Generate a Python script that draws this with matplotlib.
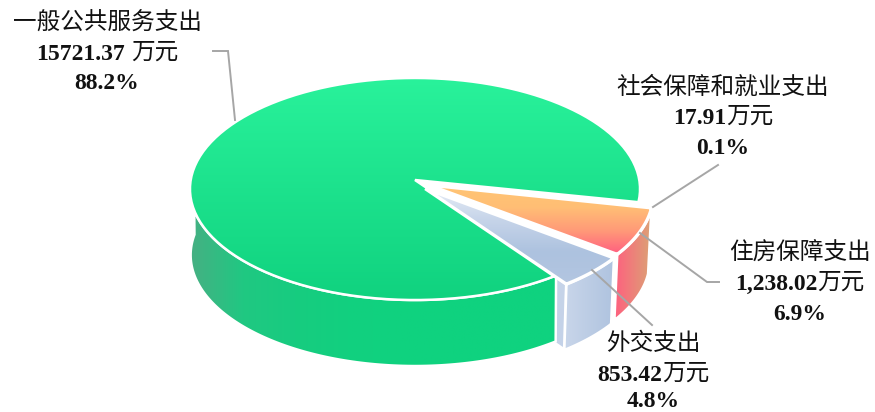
import numpy as np
import matplotlib
matplotlib.use('Agg')
import matplotlib.pyplot as plt
from matplotlib.patches import Polygon
from matplotlib.colors import LinearSegmentedColormap

plt.rcParams['font.family'] = ['Liberation Serif', 'Noto Sans CJK SC', 'DejaVu Sans']

# data
names = ['一般公共服务支出', '社会保障和就业支出', '住房保障支出', '外交支出']
values = [15721.37, 17.91, 1238.02, 853.42]
value_labels = ['15721.37', '17.91', '1,238.02', '853.42']
unit_gaps = [6, 0, 0, 0]
percents = ['88.2%', '0.1%', '6.9%', '4.8%']

# pie geometry, in pixels
cx, cy = 415, 180
rx, ry = 224.3, 110.3
persp = 0.081
depth = 66
start_angle = 54

fig = plt.figure(figsize=(8.75, 4.12), dpi=100)
ax = fig.add_axes([0, 0, 1, 1])
ax.set_xlim(0, 875)
ax.set_ylim(412, 0)
ax.axis('off')
ax.set_autoscale_on(False)


def project(theta, off=(0, 0), down=0, shrink=1.0):
    t = np.radians(theta)
    u, v = np.cos(t), np.sin(t)
    w = 1 - persp * v
    return np.column_stack([cx + off[0] + shrink * rx * u / w,
                            cy + off[1] + down + ry * v / w])


def arc(t0, t1, **kw):
    return project(np.linspace(t0, t1, 120), **kw)


def grad_fill(pts, colors, horizontal=False, z=1, lw=1.5):
    # gradient image clipped by the polygon, white outline on top
    pts = np.asarray(pts)
    x0, y0 = pts.min(axis=0)
    x1, y1 = pts.max(axis=0)
    xx, yy = np.meshgrid(np.linspace(0, 1, 200), np.linspace(0, 1, 200))
    g = xx if horizontal else yy
    cmap = LinearSegmentedColormap.from_list('g', colors)
    im = ax.imshow(g, cmap=cmap, vmin=0, vmax=1, extent=(x0, x1, y1, y0),
                   aspect='auto', zorder=z, interpolation='bilinear')
    clip = Polygon(pts, closed=True, transform=ax.transData, fc='none', ec='none')
    ax.add_patch(clip)
    im.set_clip_path(clip)
    ax.add_patch(Polygon(pts, closed=True, fill=False, ec='white', lw=lw,
                         joinstyle='miter', zorder=z + 0.5))


def side_pts(t0, t1, off=(0, 0), shrink=0.985):
    top = arc(t0, t1, off=off)
    bottom = arc(t1, t0, off=off, down=depth, shrink=shrink)
    return np.vstack([top, bottom])


# slice angles come from the values
sweep = np.array(values) / sum(values) * 360
a0 = start_angle
a1 = a0 + sweep[0]          # green ends here
a2 = a1 + sweep[1]          # 0.1% sliver
a3 = a2 + sweep[2]          # housing
a4 = a3 + sweep[3]          # diplomacy


def explode(t0, t1):
    m = np.radians((t0 + t1) / 2)
    return (0.065 * rx * np.cos(m), 0.11 * ry * np.sin(m))


off_s = explode(a1, a2)
off_h = explode(a2, a3)
off_d = explode(a3, a4)
apex = np.array([[cx, cy]], dtype=float)

# cut face of the diplomacy slice, green side covers most of it
corner = project(np.array([a4 % 360]), off=off_d)
inner = apex + np.array(off_d)
grad_fill(np.vstack([inner, corner, corner + [-1, depth], inner + [0, depth]]),
          ['#C9D6EA', '#C4D2E8'], z=1, lw=1.8)

# side walls
grad_fill(side_pts(start_angle, 186, shrink=0.997),
          ['#45B083', '#20C882', '#17CC80', '#12D07F', '#10D27F', '#0FD27F', '#0FD27F', '#0FD27F'],
          horizontal=True, z=3, lw=1.8)
grad_fill(side_pts(a3 % 360, a4 % 360, off=off_d), ['#C9D6EA', '#AFC3DF'],
          horizontal=True, z=5, lw=2.0)
grad_fill(side_pts(a2 % 360, a3 % 360, off=off_h), ['#FF5F7F', '#DBA375'],
          horizontal=True, z=5, lw=2.0)

# top faces
green_top = np.vstack([apex, arc(a0, a1)])
grad_fill(green_top, ['#29F29B', '#10D27F'], z=7, lw=1.8)

sliver = np.vstack([apex + off_s, arc(a1, a2, off=off_s)])
ax.add_patch(Polygon(sliver, closed=True, fc='white', ec='white', lw=1.5, zorder=9))

house_top = np.vstack([apex + off_h, arc(a2, a3, off=off_h)])
grad_fill(house_top, ['#FFC574', '#FFBE75', '#FF9A78', '#FF5F80'], z=9, lw=2.4)

dipl_top = np.vstack([apex + off_d, arc(a3, a4, off=off_d)])
grad_fill(dipl_top, ['#E6ECF6', '#C6D4E9', '#ADC2DF', '#B3C6E1'], z=9, lw=2.4)

# leader lines
leaders = [[(213, 51), (228, 51), (235, 120)],
           [(653, 207), (718, 165)],
           [(640, 233), (707, 282), (719, 282)],
           [(592, 270), (652, 325)]]
for line in leaders:
    xs, ys = zip(*line)
    ax.plot(xs, ys, color='#A6A6A6', lw=1.4, zorder=12, solid_joinstyle='miter')

# labels
label_x = [107, 723, 800, 653]
label_y = [(23, 52, 81), (87, 116, 146), (252, 282, 312), (344, 373, 399)]
renderer = fig.canvas.get_renderer()
for i, name in enumerate(names):
    y1, y2, y3 = label_y[i]
    ax.text(label_x[i], y1, name, fontsize=17, ha='center', va='center',
            color='#111111', family=['Noto Sans CJK SC', 'DejaVu Sans'], zorder=13)
    # number is bold, the unit is not
    num = ax.text(0, y2, value_labels[i], fontsize=17, fontweight='bold', ha='left',
                  va='center_baseline', color='#111111', zorder=13)
    unit = ax.text(0, y2, '万元', fontsize=17, ha='left', va='center',
                   color='#111111', family=['Noto Sans CJK SC', 'DejaVu Sans'], zorder=13)
    w_num = num.get_window_extent(renderer).width
    w_unit = unit.get_window_extent(renderer).width
    left = label_x[i] - (w_num + unit_gaps[i] + w_unit) / 2
    num.set_x(left)
    unit.set_x(left + w_num + unit_gaps[i])
    ax.text(label_x[i], y3, percents[i], fontsize=17, fontweight='bold', ha='center',
            va='center_baseline', color='#111111', zorder=13)

plt.savefig('out.png', dpi=100)
plt.close()
